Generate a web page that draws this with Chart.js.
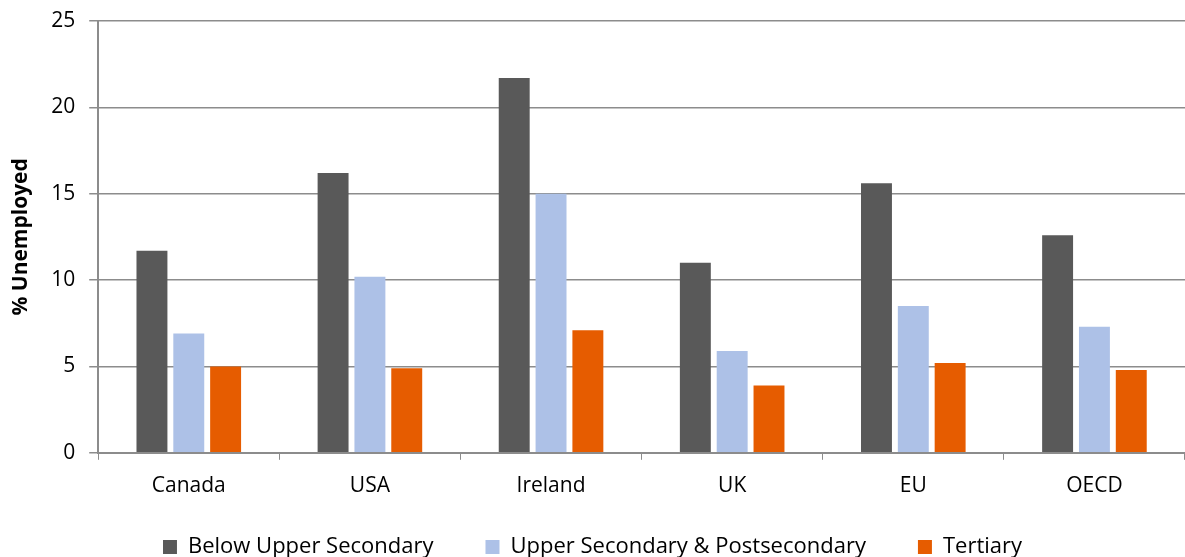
<!DOCTYPE html>
<html>
<head>
<meta charset="utf-8">
<script src="https://cdn.jsdelivr.net/npm/chart.js@4"></script>
<style>
  html, body { margin: 0; padding: 0; background: #fff; }
  #wrap { width: 1185px; height: 557px; }
</style>
</head>
<body>
<div id="wrap"><canvas id="unempChart"></canvas></div>
<script>
const countries = ['Canada', 'USA', 'Ireland', 'UK', 'EU', 'OECD'];
const belowUpperSecondary = [11.7, 16.2, 21.7, 11.0, 15.6, 12.6];
const upperSecondary = [6.9, 10.2, 15.0, 5.9, 8.5, 7.3];
const tertiary = [5.0, 4.9, 7.1, 3.9, 5.2, 4.8];
const yTicks = [0, 5, 10, 15, 20, 25];

const gridGrey = '#8c8c8c';
const font = 'Open Sans';

// legend padding is wide to get the gaps between items, so park it by hand
const legendPlacer = {
  id: 'legendPlacer',
  afterLayout(chart) {
    const lg = chart.legend;
    if (!lg) return;
    lg.top = 484;
    lg.bottom = lg.top + lg.height;
  }
};

function drawUnemploymentChart() {
  const ctx = document.getElementById('unempChart').getContext('2d');
  new Chart(ctx, {
    type: 'bar',
    data: {
      labels: countries,
      datasets: [
        { label: 'Below Upper Secondary', data: belowUpperSecondary, backgroundColor: '#595959' },
        { label: 'Upper Secondary & Postsecondary', data: upperSecondary, backgroundColor: '#adc1e7' },
        { label: 'Tertiary', data: tertiary, backgroundColor: '#e65c00' }
      ]
    },
    plugins: [legendPlacer],
    options: {
      responsive: true,
      maintainAspectRatio: false,
      animation: false,
      layout: { padding: { top: 21, right: 0, left: 0, bottom: -40 } },
      datasets: {
        bar: { categoryPercentage: 0.61, barPercentage: 0.84 }
      },
      scales: {
        x: {
          grid: {
            offset: true,
            drawOnChartArea: false,
            drawTicks: true,
            tickLength: 7,
            color: gridGrey
          },
          border: { color: gridGrey, width: 2 },
          ticks: { color: '#000', padding: 14, font: { family: font, size: 21 } }
        },
        y: {
          min: 0,
          max: 25,
          afterBuildTicks: axis => { axis.ticks = yTicks.map(v => ({ value: v })); },
          grid: { color: gridGrey, lineWidth: 1.5, tickLength: 9 },
          border: { color: gridGrey, width: 2 },
          ticks: { color: '#000', padding: 14, font: { family: font, size: 21, lineHeight: 0.5 } },
          title: {
            display: true,
            text: '% Unemployed',
            color: '#000',
            padding: { top: 8, bottom: 4 },
            font: { family: font, size: 21, weight: 'bold' }
          }
        }
      },
      plugins: {
        legend: {
          position: 'bottom',
          labels: {
            color: '#000',
            boxWidth: 14,
            boxHeight: 14,
            padding: 52,
            font: { family: font, size: 22 }
          }
        },
        tooltip: { enabled: false }
      }
    }
  });
}

drawUnemploymentChart();
</script>
</body>
</html>
